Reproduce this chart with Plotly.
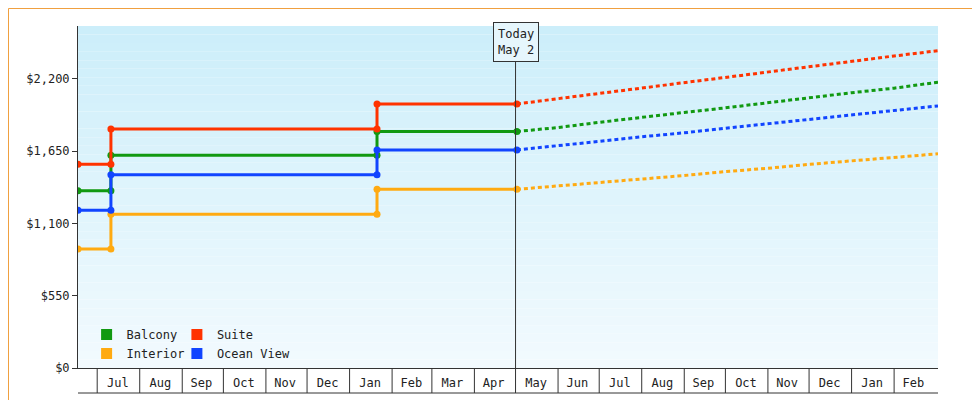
import plotly.graph_objects as go

hist_dates = ["2023-06-17", "2023-07-11", "2023-07-11", "2024-01-21", "2024-01-21", "2024-05-02"]
balcony_hist = [1350, 1350, 1620, 1620, 1800, 1800]
suite_hist = [1550, 1550, 1820, 1820, 2010, 2010]
ocean_hist = [1200, 1200, 1470, 1470, 1660, 1660]
interior_hist = [905, 905, 1170, 1170, 1360, 1360]

fc_dates = ["2024-05-02", "2024-06-01", "2024-07-01", "2024-08-01", "2024-09-01", "2024-10-01",
            "2024-11-01", "2024-12-01", "2025-01-01", "2025-02-01", "2025-03-05"]
balcony_fc = [1800, 1830, 1870, 1905, 1945, 1980, 2020, 2055, 2095, 2130, 2175]
suite_fc = [2010, 2050, 2090, 2130, 2175, 2215, 2255, 2295, 2335, 2375, 2415]
ocean_fc = [1660, 1690, 1725, 1760, 1790, 1825, 1860, 1890, 1925, 1960, 1995]
interior_fc = [1360, 1385, 1410, 1440, 1465, 1495, 1520, 1550, 1575, 1605, 1630]

month_mids = ["2023-07-16", "2023-08-16", "2023-09-15", "2023-10-16", "2023-11-15", "2023-12-16",
              "2024-01-16", "2024-02-15", "2024-03-16", "2024-04-15", "2024-05-16", "2024-06-15",
              "2024-07-16", "2024-08-16", "2024-09-15", "2024-10-16", "2024-11-15", "2024-12-16",
              "2025-01-16", "2025-02-15"]
month_labels = ["Jul", "Aug", "Sep", "Oct", "Nov", "Dec", "Jan", "Feb", "Mar", "Apr",
                "May", "Jun", "Jul", "Aug", "Sep", "Oct", "Nov", "Dec", "Jan", "Feb"]
month_starts = ["2023-07-01", "2023-08-01", "2023-09-01", "2023-10-01", "2023-11-01", "2023-12-01",
                "2024-01-01", "2024-02-01", "2024-03-01", "2024-04-01", "2024-05-01", "2024-06-01",
                "2024-07-01", "2024-08-01", "2024-09-01", "2024-10-01", "2024-11-01", "2024-12-01",
                "2025-01-01", "2025-02-01", "2025-03-01"]
y_ticks = [0, 550, 1100, 1650, 2200]
y_labels = ["$0", "$550", "$1,100", "$1,650", "$2,200"]

series = [("Balcony", "#119911", balcony_hist, balcony_fc, "legend"),
          ("Suite", "#ff3300", suite_hist, suite_fc, "legend2"),
          ("Interior", "#ffaa11", interior_hist, interior_fc, "legend"),
          ("Ocean View", "#1144ff", ocean_hist, ocean_fc, "legend2")]

fig = go.Figure()
for name, col, h, f, lg in series:
    fig.add_trace(go.Scatter(x=hist_dates, y=h, mode="lines+markers", line=dict(color=col, width=3),
                             marker=dict(size=7, color=col), showlegend=False))
    fig.add_trace(go.Scatter(x=fc_dates, y=f, mode="lines", line=dict(color=col, width=3, dash="4px,3px"),
                             showlegend=False))
for name, col, h, f, lg in series:
    fig.add_trace(go.Scatter(x=[None], y=[None], mode="markers", name=name, legend=lg,
                             marker=dict(symbol="square", size=11, color=col)))

shapes = []
n = 40
top = (204, 238, 250)
bot = (242, 250, 254)
for i in range(n):
    t = i / (n - 1)
    c = tuple(round(top[k] + (bot[k] - top[k]) * t) for k in range(3))
    shapes.append(dict(type="rect", xref="paper", yref="paper", x0=0, x1=1,
                       y0=1 - (i + 1) / n, y1=1 - i / n, fillcolor="rgb(%d,%d,%d)" % c,
                       line=dict(width=0), layer="below"))
for d in month_starts[:-1]:
    shapes.append(dict(type="line", xref="x", yref="paper", x0=d, x1=d, y0=0, y1=-25 / 342,
                       line=dict(color="#333", width=1)))
shapes.append(dict(type="line", xref="paper", yref="paper", x0=0, x1=1, y0=-25 / 342, y1=-25 / 342,
                   line=dict(color="#333", width=1)))
shapes.append(dict(type="line", xref="x", yref="paper", x0="2024-05-01", x1="2024-05-01", y0=0, y1=1,
                   line=dict(color="#333", width=1)))
pw, ph = 860, 342
shapes.append(dict(type="rect", xref="paper", yref="paper", x0=-69.5 / pw, x1=1 + 49.5 / pw,
                   y0=-39.5 / ph, y1=1 + 17.5 / ph, line=dict(color="#f0a040", width=1)))

leg = dict(yanchor="bottom", xanchor="left", y=0.0, orientation="v", bgcolor="rgba(0,0,0,0)",
           font=dict(size=12), itemwidth=30, tracegroupgap=0)
fig.update_layout(
    width=980, height=400, margin=dict(l=70, r=50, t=18, b=40, autoexpand=False),
    paper_bgcolor="white", plot_bgcolor="rgba(0,0,0,0)",
    font=dict(family="DejaVu Sans Mono", size=12, color="#222"),
    shapes=shapes,
    xaxis=dict(range=["2023-06-17", "2025-03-05"], tickmode="array", tickvals=month_mids,
               ticktext=month_labels, ticks="", showgrid=False, showline=True, automargin=False,
               linecolor="#333", zeroline=False, ticklabelstandoff=4),
    yaxis=dict(range=[0, 2603], tickmode="array", tickvals=y_ticks, ticktext=y_labels,
               ticks="outside", ticklen=5, tickcolor="#333", showgrid=False, showline=True,
               automargin=False, linecolor="#333", zeroline=False),
    legend=dict(leg, x=0.01),
    legend2=dict(leg, x=0.115),
    annotations=[dict(x="2024-05-01", y=1, xref="x", yref="paper", yanchor="top",
                      text="Today<br>May 2", showarrow=False, bgcolor="#e6f6fc",
                      bordercolor="#333", borderwidth=1, borderpad=4, yshift=4,
                      font=dict(size=12))],
)
fig.write_html("out.html")
